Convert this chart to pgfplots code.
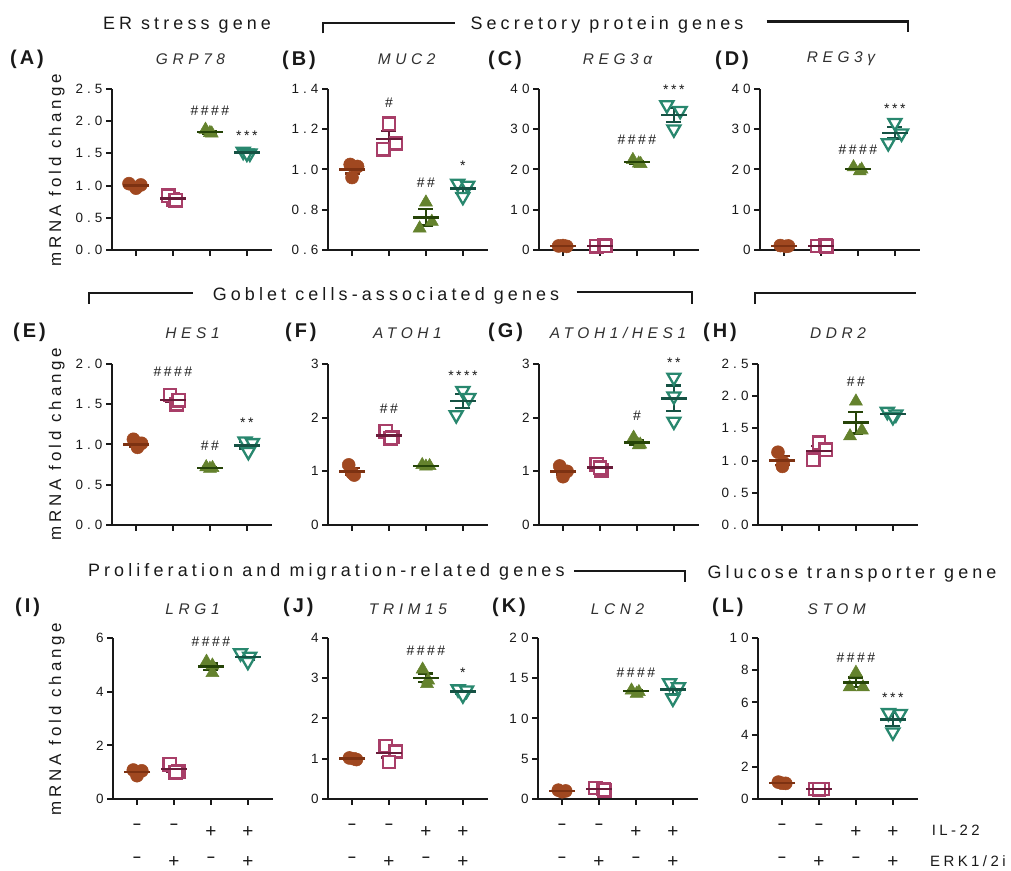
\documentclass[border=0pt]{standalone}
\usepackage{pgfplots}
\pgfplotsset{compat=1.18}
\usepackage{fontspec}
\setmainfont{Liberation Sans}
\newfontfamily\tickfont{Liberation Sans}[LetterSpace=30]
\newfontfamily\grpfont{Liberation Sans}[LetterSpace=23]
\newfontfamily\genefont{Liberation Sans}[LetterSpace=30]
\newfontfamily\labfont{Liberation Sans}[LetterSpace=15]
\newfontfamily\sigfont{Liberation Sans}[LetterSpace=18]
\definecolor{c1}{RGB}{160,72,32}
\definecolor{d1}{RGB}{125,50,18}
\definecolor{c2}{RGB}{168,62,104}
\definecolor{d2}{RGB}{105,28,58}
\definecolor{c3}{RGB}{100,130,45}
\definecolor{d3}{RGB}{38,68,8}
\definecolor{c4}{RGB}{40,135,110}
\definecolor{d4}{RGB}{22,82,68}
\definecolor{ink}{RGB}{25,25,25}
\pgfplotsset{
  panel/.style={scale only axis, width=160bp, height=161bp, anchor=south west,
    xmin=-0.65, xmax=3.68, axis x line*=bottom, axis y line*=left,
    axis line style={line width=2bp, -, ink},
    xtick={0,1,2,3}, xticklabels={},
    tick style={line width=2bp, ink}, major tick length=6bp, tick align=outside,
    clip=false,
    yticklabel style={font=\fontsize{13.5}{15}\tickfont, text=ink},
    /pgf/number format/assume math mode=true},
  g1/.style={only marks, mark=*, mark size=6.5bp, mark options={draw=c1, fill=c1, line width=0.5bp}},
  g2/.style={only marks, mark=square*, mark size=6.2bp, mark options={draw=c2, fill=white, line width=2.5bp}},
  g3/.style={only marks, mark=triangle*, mark size=7.5bp, mark options={draw=c3, fill=c3, line width=0.5bp}},
  g4/.style={only marks, mark=triangle*, mark size=7.5bp, mark options={rotate=180, draw=c4, fill=white, line width=2.3bp}},
  mean/.style={only marks, mark=-, mark size=13bp, mark options={line width=2.5bp},
    error bars/y dir=both, error bars/y explicit, error bars/error bar style={line width=2.2bp},
    error bars/error mark=-, error bars/error mark options={rotate=90, mark size=7.5bp, line width=2.2bp}},
}
\tikzset{
  sig/.style={font=\fontsize{14}{16}\sigfont, inner sep=0pt, text=ink},
  lab/.style={font=\fontsize{20}{22}\labfont\bfseries, inner sep=0pt, anchor=west, text=ink},
  gene/.style={font=\fontsize{15.5}{17}\genefont\itshape, inner sep=0pt, text=ink!90},
  grp/.style={font=\fontsize{18}{20}\grpfont, inner sep=0pt, anchor=base, text=ink},
  ylab/.style={font=\fontsize{17}{19}\grpfont, inner sep=0pt, rotate=90, text=ink},
  brk/.style={line width=2.3bp, ink},
  pm/.style={font=\fontsize{19}{21}\selectfont, inner sep=0pt, text=ink},
  mn/.style={font=\fontsize{14}{16}\selectfont\bfseries, inner sep=0pt, text=ink},
}
\newcommand\grp[6]{\addplot[#1] coordinates {#3};
  \addplot[#2, mean] coordinates {(#4,#5) +- (0,#6)};}
\begin{document}
\begin{tikzpicture}[x=1bp,y=1bp]
\useasboundingbox (0,0) rectangle (1011,871);
% group titles and brackets
\node[grp] at (187,871-29.3) {ER stress gene};
\node[grp] at (607,871-29.3) {Secretory protein genes};
\draw[brk] (323.3,871-33.3) -- (323.3,871-22.7) -- (455,871-22.7);
\draw[brk] (766.7,871-21.5) -- (908.3,871-21.5) -- (908.3,871-32.3);
\node[grp] at (386,871-300.7) {Goblet cells-associated genes};
\draw[brk] (89.3,871-304) -- (89.3,871-292.7) -- (193.3,871-292.7);
\draw[brk] (576.7,871-292) -- (691.7,871-292) -- (691.7,871-304);
\draw[brk] (755,871-304) -- (755,871-292.7) -- (916,871-292.7);
\node[grp] at (326.3,871-576.7) {Proliferation and migration-related genes};
\draw[brk] (574,871-570.7) -- (685,871-570.7) -- (685,871-581.7);
\node[grp] at (852,871-578.3) {Glucose transporter gene};
% panel labels
\node[lab] at (10,871-59) {(A)};
\node[lab] at (282,871-60) {(B)};
\node[lab] at (488,871-60) {(C)};
\node[lab] at (715,871-60) {(D)};
\node[lab] at (13,871-332) {(E)};
\node[lab] at (285,871-332) {(F)};
\node[lab] at (488,871-332) {(G)};
\node[lab] at (703,871-332) {(H)};
\node[lab] at (15,871-607) {(I)};
\node[lab] at (283,871-607) {(J)};
\node[lab] at (492,871-607) {(K)};
\node[lab] at (712,871-607) {(L)};
% gene titles
\node[gene] at (190.5,871-59) {GRP78};
\node[gene] at (406.7,871-59) {MUC2};
\node[gene] at (617.5,871-59) {REG3α};
\node[gene] at (841,871-59) {REG3γ};
\node[gene] at (192.5,871-333) {HES1};
\node[gene] at (407.5,871-333) {ATOH1};
\node[gene] at (618,871-333) {ATOH1/HES1};
\node[gene] at (838,871-333) {DDR2};
\node[gene] at (192.5,871-609) {LRG1};
\node[gene] at (408,871-609) {TRIM15};
\node[gene] at (617.5,871-609) {LCN2};
\node[gene] at (836.7,871-609) {STOM};
% y labels
\node[ylab] at (56.7,871-170) {mRNA fold change};
\node[ylab] at (56.7,871-444) {mRNA fold change};
\node[ylab] at (56.7,871-719) {mRNA fold change};
% treatment rows
\foreach \x in {137,352,562,782} {
  \node[mn] at (\x,871-826) {–}; \node[mn] at (\x+37,871-826) {–};
  \node[pm] at (\x+74,871-832) {+}; \node[pm] at (\x+111,871-832) {+};
  \node[mn] at (\x,871-859) {–}; \node[pm] at (\x+37,871-862.5) {+};
  \node[mn] at (\x+74,871-859) {–}; \node[pm] at (\x+111,871-862.5) {+};
}
\node[grp, anchor=west, font=\fontsize{15}{17}\grpfont] at (931.7,871-830) {IL-22};
\node[grp, anchor=west, font=\fontsize{15}{17}\grpfont] at (930,871-861) {ERK1/2i};

% ---------- (A) GRP78
\begin{axis}[panel, at={(112bp,621bp)}, ymin=0, ymax=2.5, ytick={0,0.5,1,1.5,2,2.5}, yticklabels={0.0,0.5,1.0,1.5,2.0,2.5}]
\grp{g1}{d1}{(-0.19,1.03)(0,0.96)(0.13,1.01)}{0}{1.0}{0.02}
\grp{g2}{d2}{(1.0,0.79)(0.87,0.84)(1.07,0.77)}{1}{0.80}{0.02}
\grp{g3}{d3}{(1.88,1.87)(2.05,1.81)(2.0,1.82)}{2}{1.83}{0.02}
\grp{g4}{d4}{(2.9,1.53)(3.08,1.50)(3.0,1.50)}{3}{1.51}{0.01}
\node[sig] at (axis cs:2,2.16) {\#\#\#\#};
\node[sig,yshift=-2.5bp] at (axis cs:3,1.82) {***};
\end{axis}
% ---------- (B) MUC2
\begin{axis}[panel, at={(328bp,621bp)}, ymin=0.6, ymax=1.4, ytick={0.6,0.8,1.0,1.2,1.4}, yticklabels={0.6,0.8,1.0,1.2,1.4}]
\grp{g1}{d1}{(-0.05,1.025)(0.0,0.96)(0.15,1.015)}{0}{1.0}{0.02}
\grp{g2}{d2}{(0.85,1.10)(1.0,1.227)(1.19,1.13)}{1}{1.152}{0.04}
\grp{g3}{d3}{(2.0,0.837)(1.83,0.708)(2.16,0.741)}{2}{0.762}{0.04}
\grp{g4}{d4}{(2.86,0.93)(3.13,0.92)(3.0,0.865)}{3}{0.905}{0.02}
\node[sig] at (axis cs:1,1.33) {\#};
\node[sig] at (axis cs:2,0.935) {\#\#};
\node[sig,yshift=-2.5bp] at (axis cs:3,1.03) {*};
\end{axis}
% ---------- (C) REG3a
\begin{axis}[panel, at={(539bp,621bp)}, ymin=0, ymax=40, ytick={0,10,20,30,40}]
\grp{g1}{d1}{(-0.12,1.0)(0,1.1)(0.1,0.9)}{0}{1.0}{0.06}
\grp{g2}{d2}{(0.9,0.9)(1.12,1.1)(1.15,1.0)}{1}{1.0}{0.06}
\grp{g3}{d3}{(1.89,22.4)(2.05,21.5)(2.1,21.4)}{2}{21.8}{0.3}
\grp{g4}{d4}{(2.81,36.0)(3.17,34.6)(3.0,30.0)}{3}{33.5}{1.8}
\node[sig] at (axis cs:2,27.3) {\#\#\#\#};
\node[sig,yshift=-2.5bp] at (axis cs:3,40.4) {***};
\end{axis}
% ---------- (D) REG3g
\begin{axis}[panel, at={(760bp,621bp)}, ymin=0, ymax=40, ytick={0,10,20,30,40}]
\grp{g1}{d1}{(-0.1,1.1)(0.05,0.9)(0.12,1.0)}{0}{1.0}{0.06}
\grp{g2}{d2}{(0.9,1.0)(1.12,1.05)(1.15,0.95)}{1}{1.0}{0.03}
\grp{g3}{d3}{(1.88,20.6)(2.05,19.6)(2.1,20.0)}{2}{20.1}{0.3}
\grp{g4}{d4}{(3.0,31.6)(3.18,29.0)(2.82,26.6)}{3}{29.1}{1.4}
\node[sig] at (axis cs:2,24.8) {\#\#\#\#};
\node[sig,yshift=-2.5bp] at (axis cs:3,35.8) {***};
\end{axis}
% ---------- (E) HES1
\begin{axis}[panel, at={(112bp,346bp)}, ymin=0, ymax=2, ytick={0,0.5,1,1.5,2}, yticklabels={0.0,0.5,1.0,1.5,2.0}]
\grp{g1}{d1}{(-0.07,1.065)(0.04,0.965)(0.15,1.015)}{0}{1.0}{0.03}
\grp{g2}{d2}{(0.92,1.615)(1.1,1.5)(1.16,1.55)}{1}{1.555}{0.03}
\grp{g3}{d3}{(1.9,0.72)(2.07,0.71)(2.0,0.70)}{2}{0.71}{0.01}
\grp{g4}{d4}{(2.95,1.04)(3.15,1.02)(3.04,0.91)}{3}{0.99}{0.04}
\node[sig] at (axis cs:1,1.9) {\#\#\#\#};
\node[sig] at (axis cs:2,0.99) {\#\#};
\node[sig,yshift=-2.5bp] at (axis cs:3,1.30) {**};
\end{axis}
% ---------- (F) ATOH1
\begin{axis}[panel, at={(328bp,346bp)}, ymin=0, ymax=3, ytick={0,1,2,3}]
\grp{g1}{d1}{(-0.09,1.12)(0.06,0.93)(0.0,0.97)}{0}{1.0}{0.06}
\grp{g2}{d2}{(0.91,1.75)(1.09,1.64)(1.05,1.62)}{1}{1.67}{0.04}
\grp{g3}{d3}{(1.9,1.12)(2.1,1.10)(2.0,1.09)}{2}{1.10}{0.01}
\grp{g4}{d4}{(3.0,2.50)(3.16,2.37)(2.82,2.05)}{3}{2.31}{0.13}
\node[sig] at (axis cs:1,2.16) {\#\#};
\node[sig,yshift=-2.5bp] at (axis cs:3,2.83) {****};
\end{axis}
% ---------- (G) ATOH1/HES1
\begin{axis}[panel, at={(539bp,346bp)}, ymin=0, ymax=3, ytick={0,1,2,3}]
\grp{g1}{d1}{(-0.09,1.10)(0.0,0.9)(0.11,1.0)}{0}{1.0}{0.06}
\grp{g2}{d2}{(0.91,1.13)(1.05,1.02)(1.0,1.07)}{1}{1.07}{0.03}
\grp{g3}{d3}{(1.91,1.63)(2.09,1.5)(2.05,1.49)}{2}{1.54}{0.05}
\grp{g4}{d4}{(3.0,2.75)(3.0,2.40)(3.0,1.93)}{3}{2.36}{0.24}
\node[sig] at (axis cs:2,2.03) {\#};
\node[sig,yshift=-2.5bp] at (axis cs:3,3.07) {**};
\end{axis}
% ---------- (H) DDR2
\begin{axis}[panel, at={(758bp,346bp)}, ymin=0, ymax=2.5, ytick={0,0.5,1,1.5,2,2.5}, yticklabels={0.0,0.5,1.0,1.5,2.0,2.5}]
\grp{g1}{d1}{(-0.11,1.13)(0.03,0.97)(0.01,0.91)}{0}{1.0}{0.07}
\grp{g2}{d2}{(1.0,1.28)(1.18,1.17)(0.84,1.01)}{1}{1.15}{0.08}
\grp{g3}{d3}{(2.0,1.92)(1.84,1.38)(2.16,1.47)}{2}{1.59}{0.17}
\grp{g4}{d4}{(2.85,1.76)(3.08,1.72)(3.0,1.68)}{3}{1.72}{0.02}
\node[sig] at (axis cs:2,2.22) {\#\#};
\end{axis}
% ---------- (I) LRG1
\begin{axis}[panel, at={(113bp,72bp)}, ymin=0, ymax=6, ytick={0,2,4,6}]
\grp{g1}{d1}{(-0.1,1.08)(0.0,0.87)(0.13,1.05)}{0}{1.0}{0.07}
\grp{g2}{d2}{(0.89,1.3)(1.12,1.03)(1.05,1.0)}{1}{1.11}{0.1}
\grp{g3}{d3}{(1.88,5.12)(2.04,4.98)(2.04,4.70)}{2}{4.93}{0.12}
\grp{g4}{d4}{(2.8,5.44)(3.05,5.31)(3.0,5.12)}{3}{5.29}{0.09}
\node[sig] at (axis cs:2,5.85) {\#\#\#\#};
\end{axis}
% ---------- (J) TRIM15
\begin{axis}[panel, at={(328bp,72bp)}, ymin=0, ymax=4, ytick={0,1,2,3,4}]
\grp{g1}{d1}{(-0.07,1.02)(0.05,1.0)(0.12,0.98)}{0}{1.0}{0.01}
\grp{g2}{d2}{(0.91,1.31)(1.18,1.18)(1.0,0.92)}{1}{1.14}{0.11}
\grp{g3}{d3}{(1.91,3.22)(2.06,2.95)(2.03,2.86)}{2}{3.01}{0.11}
\grp{g4}{d4}{(2.87,2.73)(3.1,2.70)(3.0,2.58)}{3}{2.67}{0.05}
\node[sig] at (axis cs:2,3.68) {\#\#\#\#};
\node[sig,yshift=-2.5bp] at (axis cs:3,3.2) {*};
\end{axis}
% ---------- (K) LCN2
\begin{axis}[panel, at={(538bp,72bp)}, ymin=0, ymax=20, ytick={0,5,10,15,20}]
\grp{g1}{d1}{(-0.1,1.1)(0.0,0.9)(0.1,1.0)}{0}{1.0}{0.06}
\grp{g2}{d2}{(0.9,1.37)(1.12,1.24)(1.15,1.1)}{1}{1.24}{0.08}
\grp{g3}{d3}{(1.88,13.5)(2.08,13.3)(2.02,13.1)}{2}{13.4}{0.1}
\grp{g4}{d4}{(2.91,14.4)(3.15,13.9)(3.0,12.5)}{3}{13.6}{0.57}
\node[sig] at (axis cs:2,15.7) {\#\#\#\#};
\end{axis}
% ---------- (L) STOM
\begin{axis}[panel, at={(758bp,72bp)}, ymin=0, ymax=10, ytick={0,2,4,6,8,10}]
\grp{g1}{d1}{(-0.1,1.05)(0.0,0.98)(0.1,0.97)}{0}{1.0}{0.03}
\grp{g2}{d2}{(0.9,0.62)(1.1,0.62)(1.0,0.6)}{1}{0.61}{0.01}
\grp{g3}{d3}{(2.0,7.85)(1.83,6.95)(2.19,6.95)}{2}{7.25}{0.3}
\grp{g4}{d4}{(2.88,5.35)(3.2,5.3)(3.0,4.15)}{3}{4.93}{0.39}
\node[sig] at (axis cs:2,8.8) {\#\#\#\#};
\node[sig,yshift=-2.5bp] at (axis cs:3,6.43) {***};
\end{axis}
\end{tikzpicture}
\end{document}
